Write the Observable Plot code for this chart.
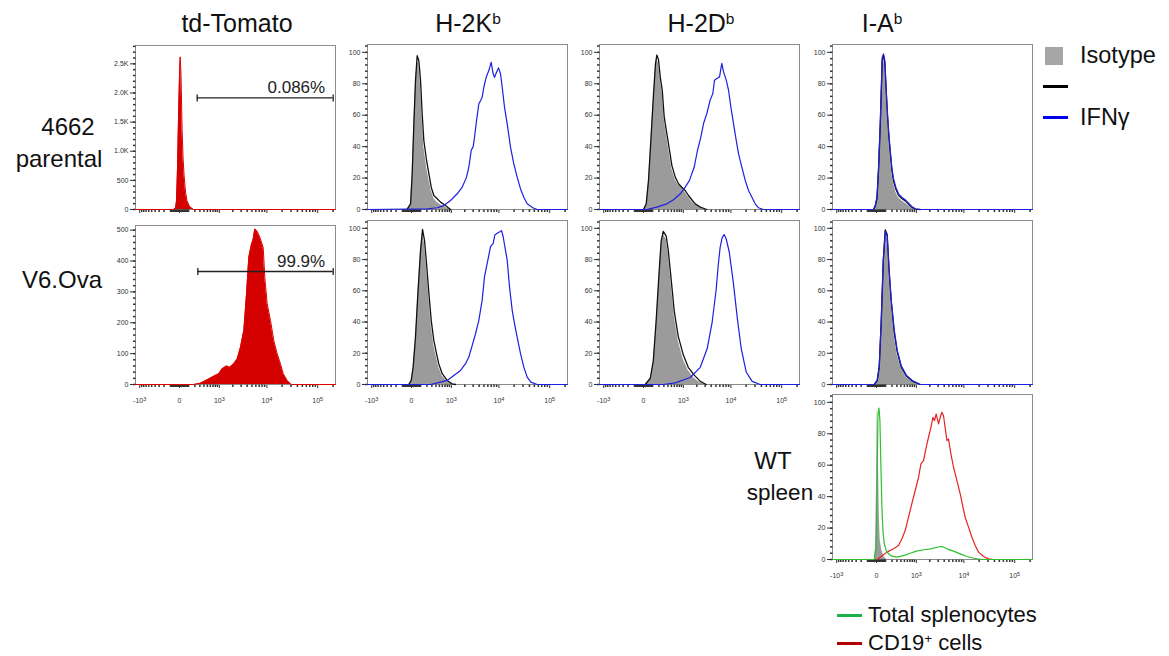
<!DOCTYPE html>
<html><head><meta charset="utf-8">
<script src="https://cdn.jsdelivr.net/npm/d3@7"></script>
<script src="https://cdn.jsdelivr.net/npm/@observablehq/plot@0.6"></script>
<style>
body{margin:0;background:#fff;font-family:Arial,"Liberation Sans",sans-serif;}
#fig{position:relative;width:1169px;height:656px;overflow:hidden;background:#fff;}
.lbl{position:absolute;white-space:nowrap;color:#111;line-height:1;}
.sup{position:relative;top:-0.5em;font-size:0.62em;}
.sw{position:absolute;}
</style></head><body><div id="fig"></div>
<script>
// ---------- categories & tick labels ----------
const columnTitles = ["td-Tomato", "H-2K", "H-2D", "I-A"];
const columnSups = ["", "b", "b", "b"];
const rowLabels = [["4662", "parental"], ["V6.Ova"], ["WT", "spleen"]];
const legendTop = ["Isotype", "", "IFNγ"];
const legendBottom = ["Total splenocytes", "CD19"];
const xTickValues = [-1000, 0, 1000, 10000, 100000];
const xTickLabels = ["-10³", "0", "10³", "10⁴", "10⁵"];
const pctTicks = [0, 20, 40, 60, 80, 100];
const tdTicksParental = [0, 500, 1000, 1500, 2000, 2500];
const tdTickLabelsParental = ["0", "500", "1.0K", "1.5K", "2.0K", "2.5K"];
const tdTicksOva = [0, 100, 200, 300, 400, 500];
const gateLabels = ["0.086%", "99.9%"];
const gateStart = [243, 256];
const gateEnd = [201000, 201000];
const gateLevel = [1916, 366];

// ---------- series: [fluorescence, count / % of max] ----------
const tdParental = [[-1250,0],[-62,0],[-39,20],[-29,150],[-19,700],[-9,1600],[0,2300],[6,2620],[14,2300],[24,1400],[34,900],[45,600],[62,300],[80,150],[114,50],[176,0],[223000,0]];
const tdOva = [[-1250,0],[180,0],[314,4],[495,15],[736,27],[972,35],[1165,51],[1456,60],[1722,56],[2100,67],[2482,83],[2910,121],[3408,175],[3874,293],[4316,412],[4832,450],[5304,471],[5716,504],[6390,496],[7210,477],[8434,444],[9080,347],[10136,261],[11794,207],[13712,142],[16010,99],[18600,67],[21040,35],[25220,13],[30220,0],[223000,0]];

const kbIsoParental = [[-42,0],[-9,3],[6,22],[22,53],[39,80],[58,95],[78,92],[100,78],[123,57],[148,40],[193,27],[237,19],[285,12],[345,7],[435,4.5],[537,3],[723,1.5],[957,0]];
const kbCtrlParental = [[-42,0.4],[-9,3.6],[6,22.7],[22,54.5],[39,82],[58,97.9],[78,94.7],[100,82],[123,60.8],[148,43.9],[193,31.2],[237,22.7],[285,14.2],[345,8.9],[435,6.8],[537,4.7],[723,2.5],[957,0]];
const kbIfnParental = [[-1250,0],[205,0.4],[435,1.1],[655,2.5],[957,5.7],[1360,10],[1755,14.2],[2175,20.6],[2435,26.9],[2730,37.5],[3005,40],[3205,46],[3525,56.6],[3930,67.2],[4600,71.4],[4970,77.8],[5550,84.1],[6280,88.4],[7010,93.7],[7680,86.2],[8170,84.1],[8960,87.3],[9820,90.1],[10770,86.2],[11620,77.8],[12930,65],[14600,54.5],[17000,39.6],[19750,29],[22970,20.6],[26770,13.1],[31060,7.8],[36200,3.6],[46700,1.1],[57000,0],[223000,0]];
const kbIsoOva = [[-26,0],[-3,2],[15,10],[39,29],[66,57],[100,85],[128,97],[158,90],[193,75],[237,55],[285,38],[345,25],[416,17],[480,11],[595,5.5],[795,2],[1045,0]];
const kbCtrlOva = [[-26,0],[-3,2.6],[15,11.1],[39,30.4],[66,58.2],[100,86],[128,99.3],[158,92.5],[193,77.5],[237,58.2],[285,41.1],[345,28.3],[416,19.7],[480,13.3],[595,6.9],[795,2.6],[1045,0.4],[1247,0]];
const kbIfnOva = [[-1250,0],[271,0],[537,1.5],[795,2.6],[1140,5.8],[1613,9],[2070,13.3],[2435,17.6],[2870,25],[3360,32.5],[3930,41.1],[4600,54],[5130,68.9],[5820,77.5],[6790,88.2],[7680,90.4],[8280,95.7],[9240,96.8],[10420,97.8],[11270,98.5],[12160,94.6],[13120,88.2],[14600,79.6],[16240,62.5],[18350,47.5],[20380,39],[22970,30.4],[26770,19.7],[31060,11.1],[36200,4.7],[42800,1.5],[57000,0],[223000,0]];

const dbIsoParental = [[0,0],[26,3],[50,17],[78,42],[114,72],[143,91],[164,96],[193,93],[224,83],[264,74],[307,57],[371,46],[444,35],[515,26],[633,19],[765,15.5],[920,14],[1105,11],[1314,8],[1555,5],[1848,2.8],[2370,1],[3000,0]];
const dbCtrlParental = [[0,0],[26,3.6],[50,18.5],[78,44],[114,73.8],[143,93],[164,98.3],[193,95.1],[224,84.4],[264,76],[307,58.9],[371,48.3],[444,37.7],[515,28.1],[633,20.6],[765,16.4],[920,14.2],[1105,12.1],[1314,8.9],[1555,6.2],[1848,3.6],[2370,1.5],[3250,0]];
const dbIfnParental = [[-1250,0],[32,0],[164,1.5],[371,3.6],[571,6.2],[845,10],[1105,14.2],[1384,18.5],[1555,22.8],[1755,27],[2070,37.7],[2435,46.1],[2776,54.7],[3250,61.1],[3810,69.6],[4320,73.8],[4680,82.3],[5210,83.4],[5906,84.4],[6570,93],[7120,87.6],[8070,82.3],[8960,75.9],[9960,65.3],[11270,54.7],[12750,44],[14160,35.5],[16470,27],[19220,18.5],[22300,12.1],[25900,7.9],[30200,3.6],[35000,1.1],[44000,0],[223000,0]];
const dbIsoOva = [[16,0],[71,3],[110,13],[153,38],[205,70],[243,90],[286,96],[355,93],[408,84],[495,64],[596,44],[752,28],[995,16],[1295,9],[1755,4],[2370,1],[3160,0]];
const dbCtrlOva = [[16,0],[71,4],[110,15],[153,41],[205,73],[243,92],[286,98],[355,95],[408,86],[495,67],[596,47],[752,31],[995,19],[1295,11],[1755,6],[2370,2],[3160,0]];
const dbIfnOva = [[-1250,0],[290,0],[633,1],[1430,4.5],[2370,11],[3310,23],[4190,40],[5060,61],[5550,76],[6090,88],[6690,94],[7340,96],[8070,93],[9250,85],[11100,66],[13350,43],[16020,23],[20100,8],[26330,2],[37870,0],[223000,0]];

const abIsoParental = [[-29,0],[-12,2],[4,7],[19,25],[36,52],[47,73],[58,94],[74,96],[91,91],[110,72],[128,57],[148,44],[171,34],[198,23],[230,16],[276,11],[338,7.5],[421,5.5],[527,4],[644,2.5],[773,1],[940,0]];
const abCtrlParental = [[-29,0],[-12,2],[4,7],[19,25],[36,52],[47,73],[58,95],[74,98],[91,93],[110,74],[128,59],[148,46],[171,36],[198,25],[230,18],[276,13],[338,9],[421,7],[527,5.5],[644,3.5],[773,1.5],[940,0.3],[1232,0]];
const abIfnParental = [[-1250,0],[-29,0],[-12,2.5],[4,7.8],[19,26.9],[36,54.5],[47,75.7],[58,96.8],[74,99],[91,94.7],[110,75.7],[128,60.8],[148,48.1],[171,37.5],[198,26.9],[230,19.5],[276,14.2],[338,10],[421,7.8],[527,6.2],[644,4],[773,1.9],[940,0.4],[1232,0],[223000,0]];
const abIsoOva = [[-22,0],[6,2],[26,10],[47,38],[71,77],[96,96],[123,93],[153,70],[188,51],[244,31],[307,19],[408,10],[563,4.5],[797,1.8],[1232,0]];
const abCtrlOva = [[-22,0],[6,2.4],[26,11],[47,40],[71,79],[96,99],[123,96],[153,72],[188,53],[244,33],[307,21],[408,11],[563,5.5],[797,2.2],[1232,0]];
const abIfnOva = [[-1250,0],[-22,0],[6,2.6],[26,12],[47,41],[71,80],[96,98],[123,95],[153,73],[188,54],[244,35],[307,22],[408,12],[563,6],[797,2.6],[1232,0],[223000,0]];

const splIso = [[-22,0],[-9,7.8],[0,50],[6,96.8],[16,71.4],[26,29],[36,12.1],[54,5.7],[83,1.5],[118,0]];
const splTotal = [[-1250,0],[-22,0],[-3,7.8],[6,50.2],[13,92.6],[23,96.4],[33,88.4],[43,60.8],[55,33.3],[67,18.4],[83,10],[110,5.7],[143,3.6],[198,2.1],[296,1.5],[471,2.5],[710,4],[1000,5.3],[1470,6.2],[2080,6.8],[2820,7.8],[3600,8.3],[4560,6.8],[6200,5.3],[8430,3.6],[11530,1.9],[15530,0.8],[22600,0],[223000,0]];
const splCD19 = [[4,0],[36,1.5],[120,4.7],[230,6.8],[338,8.9],[423,13.1],[527,18.4],[644,26.9],[777,35.4],[940,43.9],[1123,52.3],[1275,60.8],[1456,62.9],[1670,71.4],[1874,77.8],[2110,84.1],[2330,90.5],[2518,88.4],[2730,92.6],[3054,86.3],[3310,90.5],[3590,93.7],[3874,91.5],[4180,84.1],[4545,75.7],[4900,76.7],[5480,67.2],[6190,58.7],[7240,50.2],[8430,41.8],[9560,33.3],[10590,26.9],[12340,20.6],[14430,14.2],[16750,8.9],[19480,4.7],[24450,1.9],[30640,0.4],[38500,0]];

// ---------- styling ----------
const C = {
  tdFill: "#d40000", tdLine: "#e00000", iso: "#9b9b9b", ctrl: "#111111", ifn: "#1f1fe0",
  splRed: "#e42424", splGreen: "#2fbf2f", legGreen: "#1db14b", legRed: "#b40000",
  frame: "#8c8c8c", axis: "#333"
};
const X_DOMAIN = [-1250, 223000];
const xMinor = [].concat(d3.range(-900, -99, 100), d3.range(-90, 91, 10), d3.range(100, 901, 100),
  d3.range(2000, 9001, 1000), d3.range(20000, 90001, 10000), [200000]);
const tickDown = {draw(ctx) { ctx.moveTo(0, 0); ctx.lineTo(0, 2.5); }};
const tickLeft = {draw(ctx) { ctx.moveTo(0, 0); ctx.lineTo(-2.5, 0); }};
const capSym = {draw(ctx) { ctx.moveTo(0, -3.5); ctx.lineTo(0, 3.5); }};
const fig = document.getElementById("fig");
const FONT = "Arial, 'Liberation Sans', sans-serif";
const SUPER = {"³": "3", "⁴": "4", "⁵": "5"};

const px = d => d[0], py = d => d[1];
const fillArea = (data, fill) => Plot.areaY(data, {x: px, y: py, fill, curve: "linear"});
const outline = (data, stroke, w = 1.2) => Plot.line(data, {x: px, y: py, stroke, strokeWidth: w, curve: "linear"});

function gateMarks(i) {
  const g = [{x1: gateStart[i], x2: gateEnd[i], y: gateLevel[i], label: gateLabels[i]}];
  return [
    Plot.ruleY(g, {x1: "x1", x2: "x2", y: "y", stroke: "#222", strokeWidth: 1.3}),
    Plot.dot([[gateStart[i], gateLevel[i]], [gateEnd[i], gateLevel[i]]], {x: px, y: py, symbol: capSym, stroke: "#222", strokeWidth: 1.3, fill: "none"}),
    Plot.text(g, {x: "x2", y: "y", text: "label", textAnchor: "end", lineAnchor: "bottom", dx: -8, dy: -5, fontSize: 17, fill: "#222", fontFamily: FONT})
  ];
}

// render exponent labels (10³ …) with a real raised superscript
function superscriptTicks(svg) {
  d3.select(svg).selectAll("text").each(function () {
    const t = this.textContent;
    const m = /^(-?10)([³⁴⁵])$/.exec(t);
    if (!m) return;
    const sel = d3.select(this);
    sel.text(null);
    sel.append("tspan").text(m[1]);
    sel.append("tspan").attr("dy", "-0.5em").attr("font-size", "5.5px").text(SUPER[m[2]]);
  });
}

function panel({left, top, h, yMax, yTicks, yLabels, yStep, showX, marks}) {
  const ml = 34, mr = 4, mt = 4, mb = 26;
  const fmtY = d => (yLabels ? yLabels[yTicks.indexOf(d)] : String(d));
  const svg = Plot.plot({
    width: 200 + ml + mr, height: h + mt + mb,
    marginLeft: ml, marginRight: mr, marginTop: mt, marginBottom: mb,
    style: {fontSize: "7px", fontFamily: FONT, color: C.axis, background: "transparent", overflow: "visible"},
    x: {type: "symlog", constant: 200, domain: X_DOMAIN, ticks: xTickValues,
        tickFormat: showX ? (d => xTickLabels[xTickValues.indexOf(d)]) : (() => ""),
        tickSize: 4, tickPadding: 10, label: null},
    y: {domain: [0, yMax], ticks: yTicks, tickFormat: fmtY, tickSize: 5, tickPadding: 2, label: null},
    marks: [
      Plot.frame({stroke: C.frame}),
      Plot.dot(xMinor, {x: d => d, y: () => 0, symbol: tickDown, stroke: C.axis, fill: "none"}),
      Plot.dot(d3.range(0, yMax, yStep), {x: () => X_DOMAIN[0], y: d => d, symbol: tickLeft, stroke: C.axis, fill: "none"}),
      ...marks
    ]
  });
  superscriptTicks(svg);
  svg.style.position = "absolute";
  svg.style.left = (left - ml) + "px";
  svg.style.top = (top - mt) + "px";
  fig.appendChild(svg);
}

const markerMarks = (iso, ctrl, ifn) => [fillArea(iso, C.iso), outline(ctrl, C.ctrl, 1.3), outline(ifn, C.ifn, 1.2)];

// td-Tomato
panel({left: 135, top: 45, h: 164, yMax: 2815, yTicks: tdTicksParental, yLabels: tdTickLabelsParental, yStep: 100, showX: false,
  marks: [fillArea(tdParental, C.tdFill), outline(tdParental, C.tdLine, 1), ...gateMarks(0)]});
panel({left: 135, top: 225, h: 159, yMax: 515, yTicks: tdTicksOva, yStep: 20, showX: true,
  marks: [fillArea(tdOva, C.tdFill), outline(tdOva, C.tdLine, 1), ...gateMarks(1)]});
// H-2Kb
panel({left: 367, top: 44, h: 165, yMax: 105, yTicks: pctTicks, yStep: 4, showX: false, marks: markerMarks(kbIsoParental, kbCtrlParental, kbIfnParental)});
panel({left: 367, top: 220, h: 164, yMax: 105, yTicks: pctTicks, yStep: 4, showX: true, marks: markerMarks(kbIsoOva, kbCtrlOva, kbIfnOva)});
// H-2Db
panel({left: 599, top: 44, h: 165, yMax: 105, yTicks: pctTicks, yStep: 4, showX: false, marks: markerMarks(dbIsoParental, dbCtrlParental, dbIfnParental)});
panel({left: 599, top: 220, h: 164, yMax: 105, yTicks: pctTicks, yStep: 4, showX: true, marks: markerMarks(dbIsoOva, dbCtrlOva, dbIfnOva)});
// I-Ab
panel({left: 832, top: 44, h: 165, yMax: 105, yTicks: pctTicks, yStep: 4, showX: false, marks: markerMarks(abIsoParental, abCtrlParental, abIfnParental)});
panel({left: 832, top: 220, h: 164, yMax: 105, yTicks: pctTicks, yStep: 4, showX: false, marks: markerMarks(abIsoOva, abCtrlOva, abIfnOva)});
// WT spleen
panel({left: 832, top: 394, h: 165, yMax: 105, yTicks: pctTicks, yStep: 4, showX: true,
  marks: [fillArea(splIso, C.iso), outline(splCD19, C.splRed, 1.2), outline(splTotal, C.splGreen, 1.2)]});

// ---------- text ----------
function addText(html, x, y, anchor, size) {
  const d = document.createElement("div");
  d.className = "lbl";
  d.innerHTML = html;
  d.style.left = x + "px"; d.style.top = y + "px"; d.style.fontSize = size + "px";
  const tx = anchor === "middle" ? "-50%" : anchor === "end" ? "-100%" : "0";
  d.style.transform = `translate(${tx},-50%)`;
  fig.appendChild(d);
}
function swatch(x, y, w, h, color) {
  const d = document.createElement("div");
  d.className = "sw";
  Object.assign(d.style, {left: x + "px", top: y + "px", width: w + "px", height: h + "px", background: color});
  fig.appendChild(d);
}
const titleX = [237, 468, 701, 882];
columnTitles.forEach((t, i) => addText(t + (columnSups[i] ? `<span class="sup">${columnSups[i]}</span>` : ""), titleX[i], 23, "middle", 25));
addText(rowLabels[0][0], 68, 127, "middle", 24);
addText(rowLabels[0][1], 59, 159, "middle", 24);
addText(rowLabels[1][0], 62, 280, "middle", 24);
addText(rowLabels[2][0], 773, 461, "middle", 24);
addText(rowLabels[2][1], 780, 493, "middle", 22.5);

swatch(1045, 47, 18, 18, "#a6a6a6");
swatch(1043, 85, 25, 3, "#000");
swatch(1043, 116, 25, 3, "#0000f0");
addText(legendTop[0], 1080, 56, "start", 23.5);
addText(legendTop[2], 1080, 118, "start", 23.5);

swatch(837, 614, 25, 3, C.legGreen);
swatch(837, 642, 25, 3, C.legRed);
addText(legendBottom[0], 868, 615, "start", 22);
addText(legendBottom[1] + '<span class="sup">+</span> cells', 868, 643, "start", 22);
</script></body></html>
